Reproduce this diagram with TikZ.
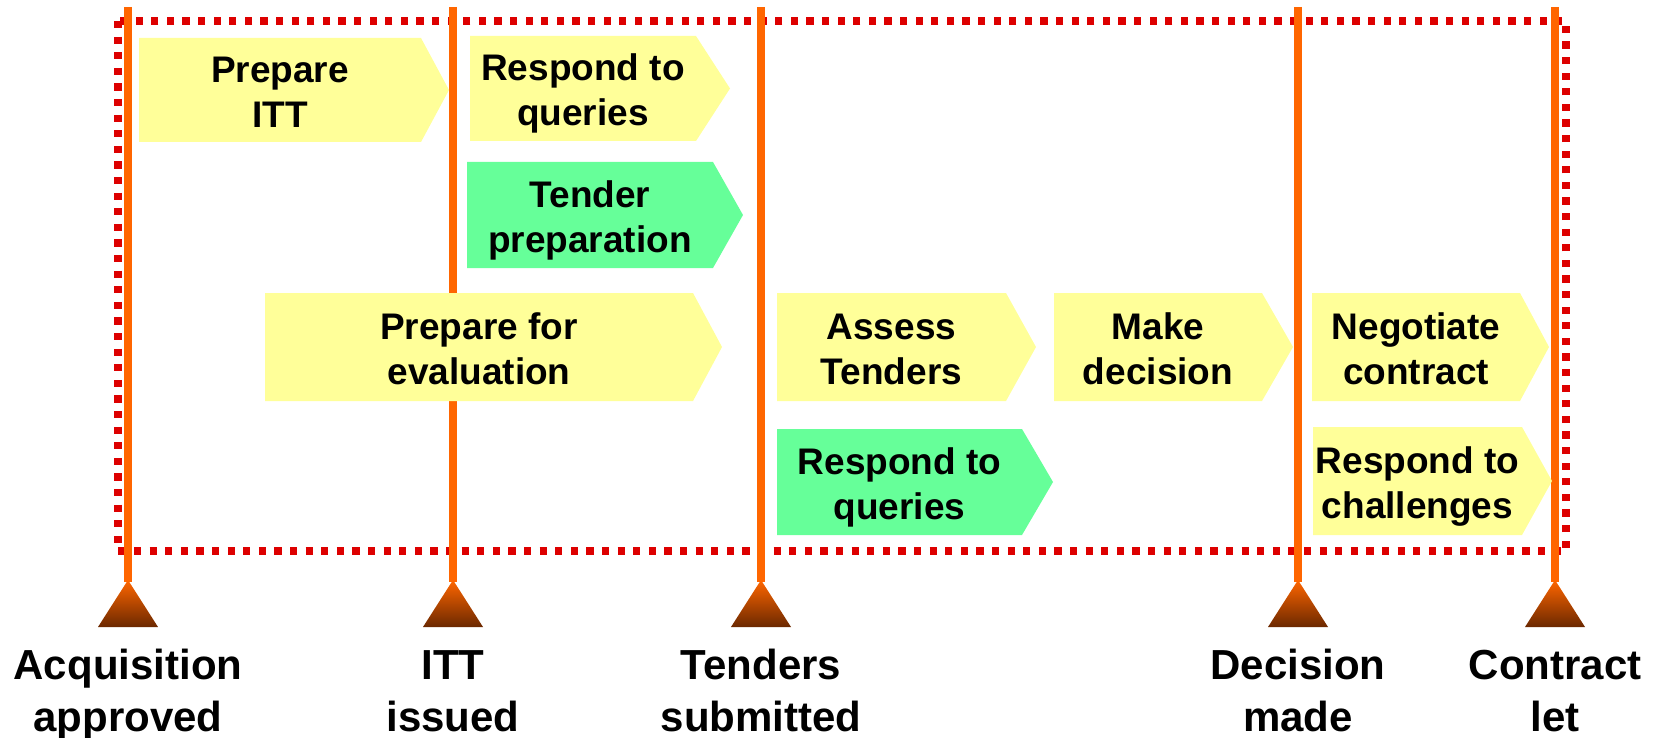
\documentclass[tikz,border=0pt]{standalone}
\usepackage{fontspec}
\setmainfont{Liberation Sans}
\definecolor{boxyellow}{HTML}{FFFF99}
\definecolor{boxgreen}{HTML}{66FF99}
\definecolor{milestone}{HTML}{FF6600}
\definecolor{darkbrown}{HTML}{6B2800}
\definecolor{borderred}{HTML}{DD0000}
\tikzset{
  boxtext/.style={font=\bfseries\fontsize{18.5}{22.5}\selectfont, align=center, inner sep=0pt},
  labeltext/.style={font=\bfseries\fontsize{21}{26}\selectfont, align=center, inner sep=0pt},
  milestoneline/.style={draw=milestone, line width=4pt},
  border/.style={draw=borderred, line width=3.6pt, dash pattern=on 3.6pt off 4.2pt},
}
% name, left, top, body right, tip x, bottom, colour, text
\newcommand\mychev[8]{%
  \fill[#7] (#2,#3) -- (#4,#3) -- (#5,{(#3+#6)/2}) -- (#4,#6) -- (#2,#6) -- cycle;
  \node[boxtext] (#1) at ({(#2+#4)/2},{(#3+#6)/2+6}) {#8};
}
% name, x, label
\newcommand\mymilestone[3]{%
  \coordinate (#1top) at (#2,7);
  \coordinate (#1apex) at (#2,582);
  \draw[milestoneline] (#1top) -- (#1apex);
  \shade[top color=milestone, bottom color=darkbrown] (#2,580) -- (#2+30,627) -- (#2-30,627) -- cycle;
  \node[labeltext] (#1) at (#2,695) {#3};
}
\begin{document}
\begin{tikzpicture}[x=0.5pt,y=-0.5pt]
\useasboundingbox (0,0) rectangle (1660,738);
\draw[border] (118,21) rectangle (1566,551);

\mymilestone{acq}{128}{\strut Acquisition\\\strut approved}
\mymilestone{itt}{453}{\strut ITT\\\strut issued}
\mymilestone{tend}{761}{\strut Tenders\\\strut submitted}
\mymilestone{dec}{1298}{\strut Decision\\\strut made}
\mymilestone{con}{1555}{\strut Contract\\\strut let}

\mychev{prepitt}{139}{38}{421}{449}{142}{boxyellow}{\strut Prepare\\\strut ITT}
\mychev{respq}{470}{36}{696}{730}{141}{boxyellow}{\strut Respond to\\\strut queries}
\mychev{tprep}{467}{162}{713}{743}{268}{boxgreen}{\strut Tender\\\strut preparation}
\mychev{prepeval}{265}{293}{693}{722}{401}{boxyellow}{\strut Prepare for\\\strut evaluation}
\mychev{assess}{777}{293}{1006}{1036}{401}{boxyellow}{\strut Assess\\\strut Tenders}
\mychev{decide}{1054}{293}{1262}{1293}{401}{boxyellow}{\strut Make\\\strut decision}
\mychev{negot}{1312}{293}{1520}{1549}{401}{boxyellow}{\strut Negotiate\\\strut contract}
\mychev{challenge}{1313}{427}{1522}{1552}{535}{boxyellow}{\strut Respond to\\\strut challenges}
\mychev{respq2}{777}{429}{1022}{1053}{535}{boxgreen}{\strut Respond to\\\strut queries}
\end{tikzpicture}
\end{document}
